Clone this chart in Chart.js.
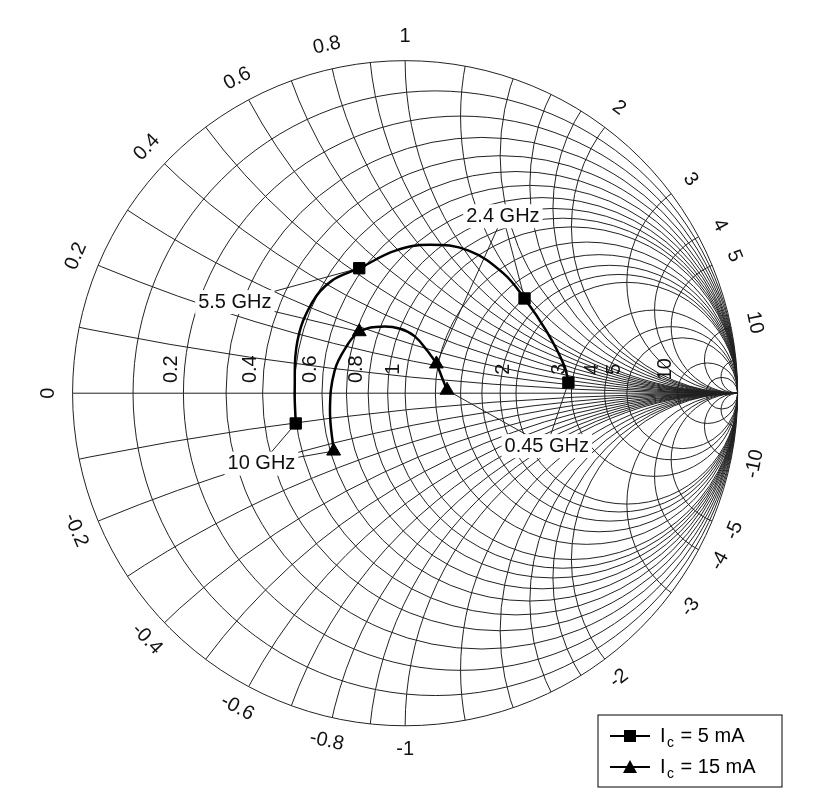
<!DOCTYPE html>
<html>
<head>
<meta charset="utf-8">
<script src="https://cdn.jsdelivr.net/npm/chart.js@4/dist/chart.umd.min.js"></script>
<style>
  body { margin: 0; background: #fff; }
  #wrap { width: 822px; height: 805px; }
</style>
</head>
<body>
<div id="wrap"><canvas id="smith"></canvas></div>
<script>
// grid values of the Smith chart
const gridR = [0.1, 0.2, 0.3, 0.4, 0.5, 0.6, 0.7, 0.8, 0.9, 1, 1.2, 1.4, 1.6, 1.8, 2, 3, 4, 5, 10, 20];
const gridX = [0.1, 0.2, 0.3, 0.4, 0.5, 0.6, 0.7, 0.8, 0.9, 1, 1.2, 1.4, 1.6, 1.8, 2, 3, 4, 5, 10, 20];
const rLabels = [0.2, 0.4, 0.6, 0.8, 1, 2, 3, 4, 5, 10];
const xLabels = [0.2, 0.4, 0.6, 0.8, 1, 2, 3, 4, 5, 10];

// reflection coefficient points
const ic5Markers = [[-0.329, -0.091], [-0.138, 0.376], [0.359, 0.285], [0.491, 0.032]];
const ic5Curve = [[-0.329, -0.091], [-0.332, 0.009], [-0.324, 0.156], [-0.279, 0.274], [-0.221, 0.338],
                  [-0.138, 0.376], [-0.029, 0.429], [0.074, 0.447], [0.191, 0.429], [0.294, 0.362],
                  [0.359, 0.285], [0.426, 0.185], [0.479, 0.082], [0.491, 0.032]];
const ic15Markers = [[-0.215, -0.174], [-0.138, 0.185], [0.094, 0.088], [0.126, 0.009]];
const ic15Curve = [[-0.215, -0.174], [-0.226, -0.050], [-0.212, 0.068], [-0.176, 0.141], [-0.138, 0.185],
                   [-0.074, 0.200], [-0.015, 0.194], [0.029, 0.171], [0.068, 0.126], [0.094, 0.088],
                   [0.112, 0.044], [0.126, 0.009]];

// frequency annotations: text, label position, leader-line targets (gamma)
const notes = [
    { text: '2.4 GHz', at: [0.294, 0.532], to: [[0.094, 0.088], [0.359, 0.285]] },
    { text: '5.5 GHz', at: [-0.512, 0.274], to: [[-0.138, 0.376], [-0.138, 0.185]] },
    { text: '10 GHz', at: [-0.432, -0.212], to: [[-0.329, -0.091], [-0.215, -0.174]] },
    { text: '0.45 GHz', at: [0.426, -0.159], to: [[0.126, 0.009], [0.491, 0.032]] }
];

const smithPlugin = {
    id: 'smith',
    beforeDatasetsDraw(chart) {
        const ctx = chart.ctx;
        const xs = chart.scales.x, ys = chart.scales.y;
        const cx = xs.getPixelForValue(0), cy = ys.getPixelForValue(0);
        const R = xs.getPixelForValue(1) - cx;
        const px = v => cx + v * R, py = v => cy - v * R;
        ctx.save();
        ctx.strokeStyle = '#222';
        ctx.lineWidth = 1;
        ctx.beginPath();
        ctx.arc(cx, cy, R, 0, Math.PI * 2);
        ctx.stroke();
        ctx.save();
        ctx.beginPath();
        ctx.arc(cx, cy, R, 0, Math.PI * 2);
        ctx.clip();
        gridR.forEach(r => {
            ctx.beginPath();
            ctx.arc(px(r / (r + 1)), cy, R / (r + 1), 0, Math.PI * 2);
            ctx.stroke();
        });
        gridX.forEach(x => {
            [1, -1].forEach(s => {
                ctx.beginPath();
                ctx.arc(px(1), py(s / x), R / x, 0, Math.PI * 2);
                ctx.stroke();
            });
        });
        ctx.beginPath();
        ctx.moveTo(cx - R, cy);
        ctx.lineTo(cx + R, cy);
        ctx.stroke();
        ctx.restore();

        ctx.fillStyle = '#111';
        ctx.font = '20px "Liberation Sans", Arial, sans-serif';
        ctx.textAlign = 'center';
        ctx.textBaseline = 'middle';
        // resistance labels along the real axis
        rLabels.forEach(r => {
            ctx.save();
            ctx.translate(px((r - 1) / (r + 1)) - 12, cy - 24);
            ctx.rotate(-Math.PI / 2);
            ctx.fillText(String(r), 0, 0);
            ctx.restore();
        });
        // reactance labels around the rim
        const rim = (label, gx, gy) => {
            const th = Math.atan2(-gy, gx);
            ctx.save();
            ctx.translate(cx + Math.cos(th) * (R + 24), cy + Math.sin(th) * (R + 24));
            ctx.rotate(th + (gy >= 0 ? Math.PI / 2 : -Math.PI / 2));
            ctx.fillText(label, 0, 0);
            ctx.restore();
        };
        rim('0', -1, 0.0001);
        xLabels.forEach(x => {
            const d = x * x + 1;
            rim(String(x), (x * x - 1) / d, 2 * x / d);
            rim(String(-x), (x * x - 1) / d, -2 * x / d);
        });

        // annotations
        notes.forEach(n => {
            const lx = px(n.at[0]), ly = py(n.at[1]);
            ctx.beginPath();
            n.to.forEach(t => { ctx.moveTo(lx, ly); ctx.lineTo(px(t[0]), py(t[1])); });
            ctx.stroke();
            const w = ctx.measureText(n.text).width + 6;
            ctx.fillStyle = '#fff';
            ctx.fillRect(lx - w / 2, ly - 12, w, 24);
            ctx.fillStyle = '#111';
            ctx.fillText(n.text, lx, ly);
        });

        // legend
        const bx = 598, by = 715;
        ctx.strokeStyle = '#000';
        ctx.fillStyle = '#fff';
        ctx.fillRect(bx, by, 184, 72);
        ctx.strokeRect(bx, by, 184, 72);
        ctx.fillStyle = '#000';
        [['5 mA', 'rect', by + 21], ['15 mA', 'tri', by + 52]].forEach(([t, shape, yy]) => {
            ctx.lineWidth = 2;
            ctx.beginPath(); ctx.moveTo(bx + 12, yy); ctx.lineTo(bx + 52, yy); ctx.stroke();
            ctx.beginPath();
            if (shape === 'rect') ctx.rect(bx + 26, yy - 6, 12, 12);
            else { ctx.moveTo(bx + 32, yy - 7); ctx.lineTo(bx + 39, yy + 6); ctx.lineTo(bx + 25, yy + 6); ctx.closePath(); }
            ctx.fill();
            ctx.textAlign = 'left';
            ctx.font = '20px "Liberation Sans", Arial, sans-serif';
            ctx.fillText('I', bx + 62, yy);
            ctx.font = '14px "Liberation Sans", Arial, sans-serif';
            ctx.fillText('c', bx + 69, yy + 7);
            ctx.font = '20px "Liberation Sans", Arial, sans-serif';
            ctx.fillText(' = ' + t, bx + 77, yy);
        });
        ctx.restore();
    }
};

const toPts = arr => arr.map(p => ({ x: p[0], y: p[1] }));

new Chart(document.getElementById('smith'), {
    type: 'scatter',
    data: {
        datasets: [
            { data: toPts(ic5Curve), showLine: true, tension: 0.4, borderColor: '#000', borderWidth: 2.5, pointRadius: 0 },
            { data: toPts(ic15Curve), showLine: true, tension: 0.4, borderColor: '#000', borderWidth: 2.5, pointRadius: 0 },
            { data: toPts(ic5Markers), pointStyle: 'rect', pointRadius: 8, backgroundColor: '#000', borderColor: '#000' },
            { data: toPts(ic15Markers), pointStyle: 'triangle', pointRadius: 8, backgroundColor: '#000', borderColor: '#000' }
        ]
    },
    options: {
        responsive: true,
        maintainAspectRatio: false,
        animation: false,
        layout: { padding: 0 },
        plugins: { legend: { display: false }, tooltip: { enabled: false } },
        scales: {
            x: { type: 'linear', min: -405 / 340, max: 417 / 340, display: false },
            y: { type: 'linear', min: -412 / 340, max: 393 / 340, display: false }
        }
    },
    plugins: [smithPlugin]
});
</script>
</body>
</html>
